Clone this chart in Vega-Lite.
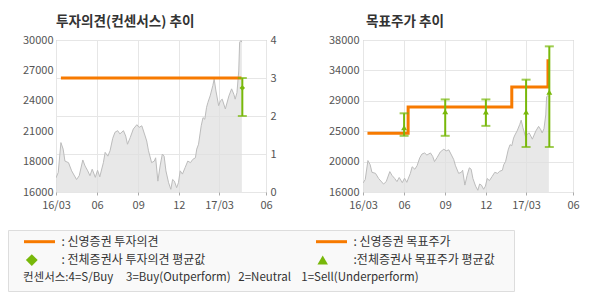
{
  "$schema": "https://vega.github.io/schema/vega-lite/v6.json",
  "background": "white",
  "padding": {"left": 7, "top": 14, "right": 5, "bottom": 5},
  "datasets": {
    "price": [
      {"date": "2016-03-01", "price": 17300}, {"date": "2016-03-06", "price": 17800}, {"date": "2016-03-12", "price": 20550},
      {"date": "2016-03-17", "price": 19950}, {"date": "2016-03-21", "price": 18850}, {"date": "2016-03-29", "price": 18700},
      {"date": "2016-04-05", "price": 17950}, {"date": "2016-04-16", "price": 17150}, {"date": "2016-04-22", "price": 17500},
      {"date": "2016-04-30", "price": 18950}, {"date": "2016-05-05", "price": 18400}, {"date": "2016-05-11", "price": 17950},
      {"date": "2016-05-16", "price": 17500}, {"date": "2016-05-21", "price": 18100}, {"date": "2016-05-28", "price": 17350},
      {"date": "2016-06-02", "price": 18000}, {"date": "2016-06-07", "price": 17400}, {"date": "2016-06-15", "price": 18700},
      {"date": "2016-06-19", "price": 19650}, {"date": "2016-06-25", "price": 19300}, {"date": "2016-06-30", "price": 19800},
      {"date": "2016-07-06", "price": 20950}, {"date": "2016-07-11", "price": 21500}, {"date": "2016-07-17", "price": 21650},
      {"date": "2016-07-22", "price": 21350}, {"date": "2016-07-30", "price": 21650}, {"date": "2016-08-04", "price": 21150},
      {"date": "2016-08-08", "price": 20400}, {"date": "2016-08-14", "price": 21000}, {"date": "2016-08-21", "price": 21800},
      {"date": "2016-08-29", "price": 22200}, {"date": "2016-09-03", "price": 21950}, {"date": "2016-09-09", "price": 22100},
      {"date": "2016-09-15", "price": 21350}, {"date": "2016-09-20", "price": 20700}, {"date": "2016-09-24", "price": 19800},
      {"date": "2016-10-01", "price": 18700}, {"date": "2016-10-07", "price": 18850}, {"date": "2016-10-10", "price": 19150},
      {"date": "2016-10-15", "price": 17000}, {"date": "2016-10-20", "price": 18400}, {"date": "2016-10-25", "price": 19500},
      {"date": "2016-10-29", "price": 19300}, {"date": "2016-11-02", "price": 17950}, {"date": "2016-11-08", "price": 16850},
      {"date": "2016-11-13", "price": 16250}, {"date": "2016-11-17", "price": 17150}, {"date": "2016-11-21", "price": 17000},
      {"date": "2016-11-26", "price": 16400}, {"date": "2016-11-30", "price": 16850}, {"date": "2016-12-04", "price": 17950},
      {"date": "2016-12-09", "price": 17650}, {"date": "2016-12-15", "price": 18250}, {"date": "2016-12-21", "price": 18850},
      {"date": "2016-12-27", "price": 18700}, {"date": "2017-01-01", "price": 19000}, {"date": "2017-01-07", "price": 19150},
      {"date": "2017-01-10", "price": 19950}, {"date": "2017-01-14", "price": 20400}, {"date": "2017-01-20", "price": 22100},
      {"date": "2017-01-24", "price": 22850}, {"date": "2017-01-28", "price": 22700}, {"date": "2017-02-01", "price": 23800},
      {"date": "2017-02-04", "price": 24250}, {"date": "2017-02-09", "price": 24850}, {"date": "2017-02-15", "price": 25800},
      {"date": "2017-02-18", "price": 26400}, {"date": "2017-02-22", "price": 25300}, {"date": "2017-02-28", "price": 23950},
      {"date": "2017-03-04", "price": 24400}, {"date": "2017-03-08", "price": 24550}, {"date": "2017-03-15", "price": 23650},
      {"date": "2017-03-23", "price": 24850}, {"date": "2017-03-29", "price": 25500}, {"date": "2017-04-03", "price": 25000},
      {"date": "2017-04-06", "price": 24550}, {"date": "2017-04-10", "price": 25150}, {"date": "2017-04-14", "price": 27150},
      {"date": "2017-04-16", "price": 29800}, {"date": "2017-04-19", "price": 29950}, {"date": "2017-04-21", "price": 29800}
    ],
    "opinion": [
      {"date": "2016-03-12", "rating": 3},
      {"date": "2017-04-20", "rating": 3}
    ],
    "opinionRange": [
      {"date": "2017-04-22", "low": 2, "high": 3, "avg": 2.74}
    ],
    "target": [
      {"date": "2016-03-11", "target": 24500},
      {"date": "2016-06-10", "target": 28300},
      {"date": "2017-01-28", "target": 31200},
      {"date": "2017-04-19", "target": 35200}
    ],
    "targetRange": [
      {"date": "2016-06-01", "low": 24130, "high": 27390, "avg": 25320},
      {"date": "2016-09-01", "low": 24130, "high": 29400, "avg": 27620},
      {"date": "2016-12-01", "low": 25570, "high": 29400, "avg": 27570},
      {"date": "2017-03-01", "low": 22510, "high": 32260, "avg": 27570},
      {"date": "2017-04-22", "low": 22510, "high": 37080, "avg": 30440}
    ],
    "legend": [
      {"chart": "투자의견", "source": "신영증권", "label": ": 신영증권 투자의견", "marker": "line"},
      {"chart": "투자의견", "source": "전체증권사", "label": ": 전체증권사 투자의견 평균값", "marker": "diamond"},
      {"chart": "목표주가", "source": "신영증권", "label": ": 신영증권 목표주가", "marker": "line"},
      {"chart": "목표주가", "source": "전체증권사", "label": ":전체증권사 목표주가 평균값", "marker": "triangle"},
      {"chart": "투자의견", "source": "컨센서스", "label": "컨센서스:4=S/Buy\u00a0\u00a0\u00a0\u00a0 3=Buy(Outperform)\u00a0\u00a0 2=Neutral\u00a0\u00a0\u00a0 1=Sell(Underperform)", "marker": "none"}
    ]
  },
  "vconcat": [
    {
      "hconcat": [
        {
          "width": 1,
          "height": 1,
          "data": {"values": []},
          "mark": {"type": "point"},
          "view": {"stroke": null, "fill": null}
        },
        {
          "width": 210,
          "height": 152,
          "title": {"text": "투자의견(컨센서스) 추이", "frame": "group"},
          "encoding": {
            "x": {
              "field": "date", "type": "temporal", "title": null,
              "scale": {"type": "utc", "domain": [{"year": 2016, "month": 3, "date": 1, "utc": true}, {"year": 2017, "month": 6, "date": 14, "utc": true}]},
              "axis": {
                "values": [
                  {"year": 2016, "month": 3, "date": 1, "utc": true},
                  {"year": 2016, "month": 6, "date": 1, "utc": true},
                  {"year": 2016, "month": 9, "date": 1, "utc": true},
                  {"year": 2016, "month": 12, "date": 1, "utc": true},
                  {"year": 2017, "month": 3, "date": 1, "utc": true},
                  {"year": 2017, "month": 6, "date": 14, "utc": true}
                ],
                "labelExpr": "utcFormat(datum.value, '%m') == '03' ? utcFormat(datum.value, '%y/%m') : utcFormat(datum.value, '%m')",
                "grid": true, "ticks": true, "tickSize": 3, "tickColor": "#aaaaaa", "labelPadding": 4,
                "labelFlush": false, "labelOverlap": false
              }
            }
          },
          "layer": [
            {
              "data": {"name": "price"},
              "mark": {"type": "area", "clip": true, "color": "#dedede", "line": {"color": "#bcbcbc", "strokeWidth": 1}},
              "encoding": {
                "y": {
                  "field": "price", "type": "quantitative", "title": null,
                  "scale": {"domain": [16000, 30000], "nice": false, "zero": false},
                  "axis": {"values": [16000, 18800, 21600, 24400, 27200, 30000], "labelExpr": "format(floor(datum.value / 1000) * 1000, 'd')", "grid": false, "labelPadding": 3, "minExtent": 46, "labelOverlap": false}
                }
              }
            },
            {
              "layer": [
                {
                  "data": {"name": "opinion"},
                  "mark": {"type": "line", "color": "#f77a00", "strokeWidth": 3},
                  "encoding": {
                    "y": {
                      "field": "rating", "type": "quantitative", "title": null,
                      "scale": {"domain": [0, 4], "nice": false},
                      "axis": {"orient": "right", "values": [0, 1, 2, 3, 4], "grid": true, "labelPadding": 4, "minExtent": 12, "labelOverlap": false}
                    }
                  }
                },
                {
                  "data": {"name": "opinionRange"},
                  "mark": {"type": "rule", "color": "#78b80a", "strokeWidth": 2},
                  "encoding": {
                    "y": {"field": "low", "type": "quantitative", "title": null, "axis": {"orient": "right", "values": [0, 1, 2, 3, 4], "grid": true, "labelPadding": 4, "minExtent": 12, "labelOverlap": false}},
                    "y2": {"field": "high"}
                  }
                },
                {
                  "data": {"name": "opinionRange"},
                  "mark": {"type": "tick", "orient": "horizontal", "color": "#78b80a", "size": 9, "thickness": 2},
                  "encoding": {"y": {"field": "low", "type": "quantitative", "title": null, "axis": {"orient": "right", "values": [0, 1, 2, 3, 4], "grid": true, "labelPadding": 4, "minExtent": 12, "labelOverlap": false}}}
                },
                {
                  "data": {"name": "opinionRange"},
                  "mark": {"type": "tick", "orient": "horizontal", "color": "#78b80a", "size": 9, "thickness": 2},
                  "encoding": {"y": {"field": "high", "type": "quantitative", "title": null, "axis": {"orient": "right", "values": [0, 1, 2, 3, 4], "grid": true, "labelPadding": 4, "minExtent": 12, "labelOverlap": false}}}
                },
                {
                  "data": {"name": "opinionRange"},
                  "mark": {"type": "point", "shape": "diamond", "filled": true, "color": "#78b80a", "size": 30, "opacity": 1},
                  "encoding": {"y": {"field": "avg", "type": "quantitative", "title": null, "axis": {"orient": "right", "values": [0, 1, 2, 3, 4], "grid": true, "labelPadding": 4, "minExtent": 12, "labelOverlap": false}}}
                }
              ]
            }
          ],
          "resolve": {"scale": {"y": "independent"}}
        },
        {
          "width": 210,
          "height": 152,
          "title": {"text": "목표주가 추이", "frame": "group", "dx": 3},
          "encoding": {
            "x": {
              "field": "date", "type": "temporal", "title": null,
              "scale": {"type": "utc", "domain": [{"year": 2016, "month": 3, "date": 1, "utc": true}, {"year": 2017, "month": 6, "date": 14, "utc": true}]},
              "axis": {
                "values": [
                  {"year": 2016, "month": 3, "date": 1, "utc": true},
                  {"year": 2016, "month": 6, "date": 1, "utc": true},
                  {"year": 2016, "month": 9, "date": 1, "utc": true},
                  {"year": 2016, "month": 12, "date": 1, "utc": true},
                  {"year": 2017, "month": 3, "date": 1, "utc": true},
                  {"year": 2017, "month": 6, "date": 14, "utc": true}
                ],
                "labelExpr": "utcFormat(datum.value, '%m') == '03' ? utcFormat(datum.value, '%y/%m') : utcFormat(datum.value, '%m')",
                "grid": true, "ticks": true, "tickSize": 3, "tickColor": "#aaaaaa", "labelPadding": 4,
                "labelFlush": false, "labelOverlap": false
              }
            }
          },
          "layer": [
            {
              "data": {"name": "price"},
              "mark": {"type": "area", "clip": true, "color": "#dedede", "line": {"color": "#bcbcbc", "strokeWidth": 1}},
              "encoding": {
                "y": {
                  "field": "price", "type": "quantitative", "title": null,
                  "scale": {"domain": [16000, 38000], "nice": false, "zero": false},
                  "axis": {"values": [16000, 20400, 24800, 29200, 33600, 38000], "labelExpr": "format(round(datum.value / 1000) * 1000, 'd')", "grid": true, "labelPadding": 4, "minExtent": 83, "labelOverlap": false}
                }
              }
            },
            {
              "data": {"name": "target"},
              "mark": {"type": "line", "interpolate": "step-after", "color": "#f77a00", "strokeWidth": 3},
              "encoding": {"y": {"field": "target", "type": "quantitative", "title": null, "axis": {"values": [16000, 20400, 24800, 29200, 33600, 38000], "labelExpr": "format(round(datum.value / 1000) * 1000, 'd')", "grid": true, "labelPadding": 4, "minExtent": 83, "labelOverlap": false}}}
            },
            {
              "data": {"name": "targetRange"},
              "mark": {"type": "rule", "color": "#78b80a", "strokeWidth": 2},
              "encoding": {
                "y": {"field": "low", "type": "quantitative", "title": null, "axis": {"values": [16000, 20400, 24800, 29200, 33600, 38000], "labelExpr": "format(round(datum.value / 1000) * 1000, 'd')", "grid": true, "labelPadding": 4, "minExtent": 83, "labelOverlap": false}},
                "y2": {"field": "high"}
              }
            },
            {
              "data": {"name": "targetRange"},
              "mark": {"type": "tick", "orient": "horizontal", "color": "#78b80a", "size": 9, "thickness": 2},
              "encoding": {"y": {"field": "low", "type": "quantitative", "title": null, "axis": {"values": [16000, 20400, 24800, 29200, 33600, 38000], "labelExpr": "format(round(datum.value / 1000) * 1000, 'd')", "grid": true, "labelPadding": 4, "minExtent": 83, "labelOverlap": false}}}
            },
            {
              "data": {"name": "targetRange"},
              "mark": {"type": "tick", "orient": "horizontal", "color": "#78b80a", "size": 9, "thickness": 2},
              "encoding": {"y": {"field": "high", "type": "quantitative", "title": null, "axis": {"values": [16000, 20400, 24800, 29200, 33600, 38000], "labelExpr": "format(round(datum.value / 1000) * 1000, 'd')", "grid": true, "labelPadding": 4, "minExtent": 83, "labelOverlap": false}}}
            },
            {
              "data": {"name": "targetRange"},
              "mark": {"type": "point", "shape": "triangle-up", "filled": true, "color": "#78b80a", "size": 35, "opacity": 1},
              "encoding": {"y": {"field": "avg", "type": "quantitative", "title": null, "axis": {"values": [16000, 20400, 24800, 29200, 33600, 38000], "labelExpr": "format(round(datum.value / 1000) * 1000, 'd')", "grid": true, "labelPadding": 4, "minExtent": 83, "labelOverlap": false}}}
            }
          ]
        }
      ],
      "spacing": 0,
      "resolve": {"scale": {"x": "independent", "y": "independent"}, "axis": {"x": "independent", "y": "independent"}}
    },
    {
      "width": 506,
      "height": 61,
      "view": {"fill": "#f9f9f9", "stroke": "#dddddd"},
      "data": {"name": "legend"},
      "encoding": {
        "x": {"field": "chart", "type": "nominal", "axis": null, "scale": {"type": "point", "domain": ["투자의견", "목표주가"], "range": [16, 308], "padding": 0}},
        "y": {"field": "source", "type": "nominal", "axis": null, "scale": {"type": "point", "domain": ["신영증권", "전체증권사", "컨센서스"], "range": [11.7, 48.4], "padding": 0}}
      },
      "layer": [
        {
          "transform": [{"filter": "datum.marker == 'line'"}],
          "mark": {"type": "point", "shape": "stroke", "size": 961, "strokeWidth": 3, "color": "#f77a00", "xOffset": 15.5, "opacity": 1}
        },
        {
          "transform": [{"filter": "datum.marker == 'diamond'"}],
          "mark": {"type": "point", "shape": "diamond", "filled": true, "size": 140, "color": "#78b80a", "xOffset": 7.8, "opacity": 1}
        },
        {
          "transform": [{"filter": "datum.marker == 'triangle'"}],
          "mark": {"type": "point", "shape": "triangle-up", "filled": true, "size": 110, "color": "#78b80a", "xOffset": 6.7, "opacity": 1}
        },
        {
          "transform": [{"filter": "datum.marker != 'none'"}],
          "mark": {"type": "text", "align": "left", "baseline": "middle", "dx": 37.5, "fontSize": 12, "color": "#333333"},
          "encoding": {"text": {"field": "label"}}
        },
        {
          "transform": [{"filter": "datum.marker == 'none'"}],
          "mark": {"type": "text", "align": "left", "baseline": "middle", "dx": -1, "fontSize": 11.5, "color": "#333333"},
          "encoding": {"text": {"field": "label"}}
        }
      ]
    }
  ],
  "spacing": 18,
  "resolve": {"scale": {"x": "independent", "y": "independent"}},
  "config": {
    "font": "Noto Sans CJK KR",
    "view": {"stroke": "#aaaaaa"},
    "axis": {"labelFont": "Noto Sans CJK KR", "labelFontSize": 11, "labelColor": "#555555", "domain": false, "ticks": false, "gridColor": "#e6e6e6", "gridWidth": 1, "labelOverlap": false},
    "title": {"font": "Noto Sans CJK KR", "fontSize": 13.6, "fontWeight": "bold", "color": "#333333", "anchor": "start", "offset": 5},
    "text": {"font": "Noto Sans CJK KR"}
  }
}
